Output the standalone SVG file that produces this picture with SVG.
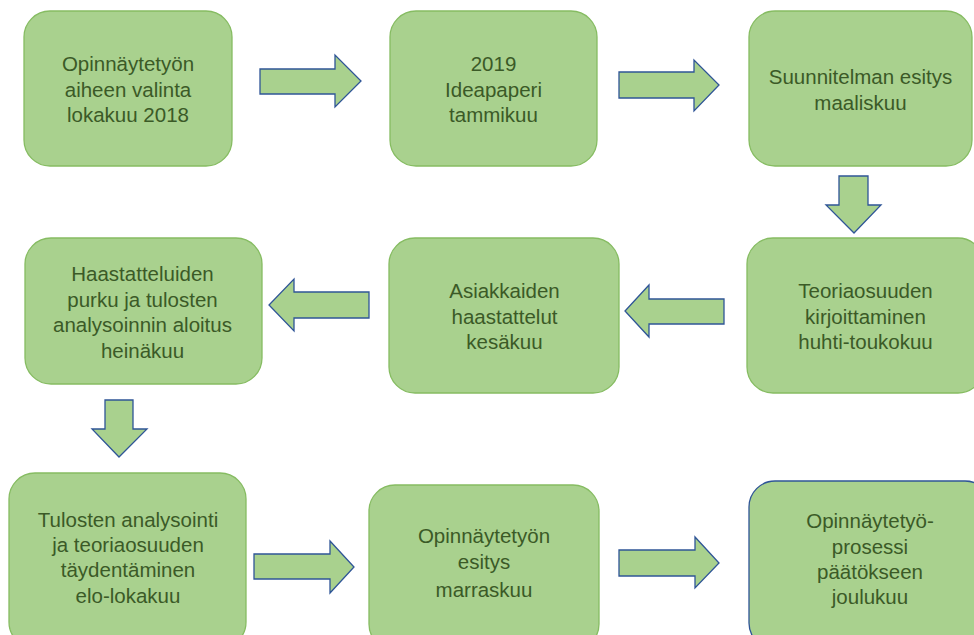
<svg xmlns="http://www.w3.org/2000/svg" width="974" height="635" viewBox="0 0 974 635">
<style>
.node{fill:#A9D18E;stroke:#86BC62;stroke-width:1.3}
.node.blue{stroke:#2F5597}
.arr{fill:#A9D18E;stroke:#2F5597;stroke-width:1.3;stroke-linejoin:miter}
text{font-family:"Liberation Sans",Arial,sans-serif;font-size:20.5px;fill:#3B5A27;text-anchor:middle}
</style>
<rect width="974" height="635" fill="#FFFFFF"/>
<g id="connectors">
<polygon class="arr" points="260,69 335,69 335,55 361,81 335,107 335,94 260,94"/>
<polygon class="arr" points="619,72 694,72 694,60 719,85 694,111 694,98 619,98"/>
<polygon class="arr" points="839,176 868,176 868,205 881,205 854,233 826,205 839,205"/>
<polygon class="arr" points="724,299 649,299 649,285 625,311 649,337 649,324 724,324"/>
<polygon class="arr" points="369,292 294,292 294,279 269,305 294,331 294,318 369,318"/>
<polygon class="arr" points="105,400 133,400 133,429 147,429 119,457 92,429 105,429"/>
<polygon class="arr" points="254,554 330,554 330,541 354,567 330,593 330,579 254,579"/>
<polygon class="arr" points="619,550 695,550 695,537 719,563 695,588 695,576 619,576"/>
</g>
<g id="n1">
<rect class="node" x="24" y="11" width="208" height="155" rx="26"/>
<text x="128" y="71">Opinnäytetyön</text>
<text x="128" y="96.5">aiheen valinta</text>
<text x="128" y="122">lokakuu 2018</text>
</g>
<g id="n2">
<rect class="node" x="390" y="11" width="207" height="155" rx="26"/>
<text x="493.5" y="71">2019</text>
<text x="493.5" y="96.5">Ideapaperi</text>
<text x="493.5" y="122">tammikuu</text>
</g>
<g id="n3">
<rect class="node" x="749" y="11" width="223" height="155" rx="26"/>
<text x="860.5" y="84">Suunnitelman esitys</text>
<text x="860.5" y="110">maaliskuu</text>
</g>
<g id="n4">
<rect class="node" x="747" y="238" width="237" height="155" rx="26"/>
<text x="865.5" y="298">Teoriaosuuden</text>
<text x="865.5" y="324">kirjoittaminen</text>
<text x="865.5" y="349">huhti-toukokuu</text>
</g>
<g id="n5">
<rect class="node" x="389" y="238" width="230" height="155" rx="26"/>
<text x="504.5" y="298">Asiakkaiden</text>
<text x="504.5" y="324">haastattelut</text>
<text x="504.5" y="349">kesäkuu</text>
</g>
<g id="n6">
<rect class="node" x="25" y="238" width="237" height="146" rx="26"/>
<text x="142.5" y="281">Haastatteluiden</text>
<text x="142.5" y="307">purku ja tulosten</text>
<text x="142.5" y="332">analysoinnin aloitus</text>
<text x="142.5" y="358">heinäkuu</text>
</g>
<g id="n7">
<rect class="node" x="9" y="473" width="237" height="175" rx="26"/>
<text x="128" y="527">Tulosten analysointi</text>
<text x="128" y="552">ja teoriaosuuden</text>
<text x="128" y="577">täydentäminen</text>
<text x="128" y="603">elo-lokakuu</text>
</g>
<g id="n8">
<rect class="node" x="369" y="485" width="230" height="165" rx="26"/>
<text x="484" y="543">Opinnäytetyön</text>
<text x="484" y="569">esitys</text>
<text x="484" y="597">marraskuu</text>
</g>
<g id="n9">
<rect class="node blue" x="749" y="481" width="242" height="168" rx="26"/>
<text x="870" y="528">Opinnäytetyö-</text>
<text x="870" y="554">prosessi</text>
<text x="870" y="579">päätökseen</text>
<text x="870" y="604">joulukuu</text>
</g>
</svg>
